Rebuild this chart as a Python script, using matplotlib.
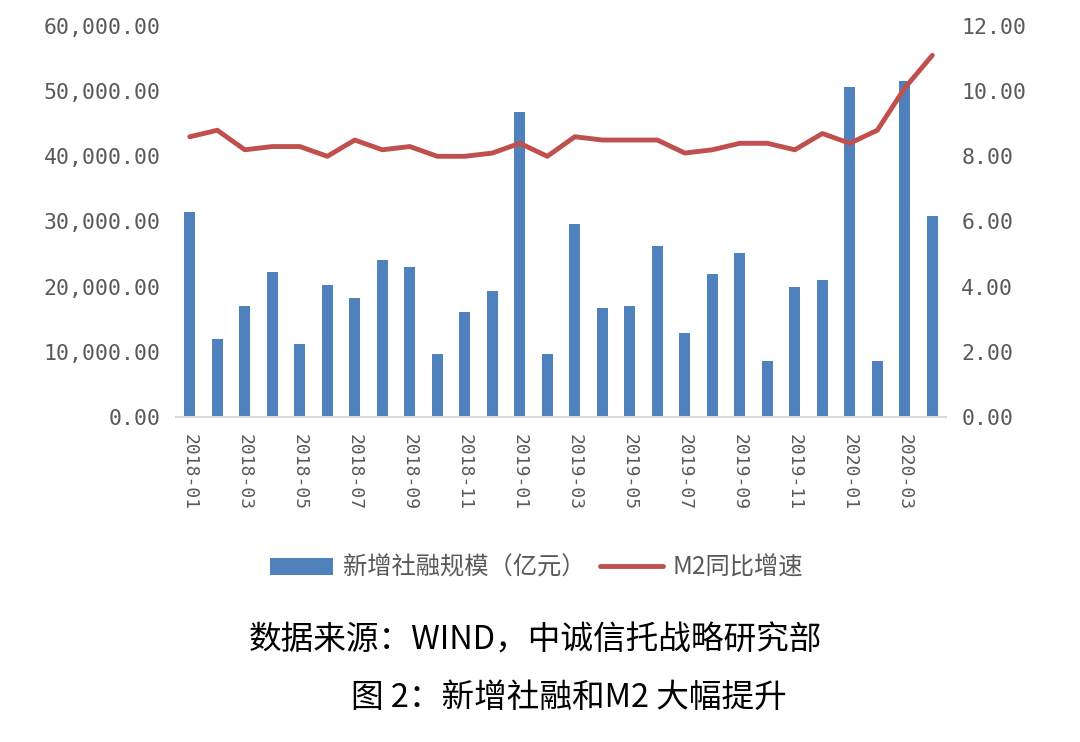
import matplotlib
matplotlib.use('Agg')
import matplotlib.pyplot as plt

plt.rcParams['font.family'] = ['Noto Sans CJK SC', 'DejaVu Sans']

months = ['2018-01', '2018-02', '2018-03', '2018-04', '2018-05', '2018-06',
          '2018-07', '2018-08', '2018-09', '2018-10', '2018-11', '2018-12',
          '2019-01', '2019-02', '2019-03', '2019-04', '2019-05', '2019-06',
          '2019-07', '2019-08', '2019-09', '2019-10', '2019-11', '2019-12',
          '2020-01', '2020-02', '2020-03', '2020-04']
social_financing = [31500, 12000, 17100, 22200, 11200, 20300, 18300, 24100,
                    23000, 9600, 16100, 19300, 46800, 9700, 29600, 16700,
                    17100, 26200, 12900, 21900, 25200, 8600, 19900, 21000,
                    50700, 8600, 51600, 30900]
m2_growth = [8.6, 8.8, 8.2, 8.3, 8.3, 8.0, 8.5, 8.2, 8.3, 8.0, 8.0, 8.1,
             8.4, 8.0, 8.6, 8.5, 8.5, 8.5, 8.1, 8.2, 8.4, 8.4, 8.2, 8.7,
             8.4, 8.8, 10.1, 11.1]
left_ticks = [0, 10000, 20000, 30000, 40000, 50000, 60000]
right_ticks = [0, 2, 4, 6, 8, 10, 12]

blue = '#4f81bd'
red = '#c0504d'
grey = '#595959'
mono = 'DejaVu Sans Mono'

fig = plt.figure(figsize=(10.8, 7.42), dpi=100)
ax = fig.add_axes([0.163, 0.438, 0.713, 0.527])
x = list(range(len(months)))
bars = ax.bar(x, social_financing, width=0.4, color=blue)
ax.set_xlim(-0.5, len(months) - 0.5)
ax.set_ylim(0, 60000)
ax.set_yticks(left_ticks, [f'{v:,.2f}' for v in left_ticks],
              fontfamily=mono, fontsize=15.5, color=grey)
ax.set_xticks(x[::2], months[::2], rotation=270, fontsize=13, color=grey,
              fontfamily=mono)
ax.tick_params(axis='y', length=0, pad=11)
ax.tick_params(axis='x', length=0, pad=12)
for s in ['top', 'left', 'right']:
    ax.spines[s].set_visible(False)
ax.spines['bottom'].set_color('#d9d9d9')
ax.spines['bottom'].set_linewidth(1.5)

ax2 = ax.twinx()
line, = ax2.plot(x, m2_growth, color=red, linewidth=3.5,
                 solid_capstyle='round', solid_joinstyle='round')
ax2.set_ylim(0, 12)
ax2.set_yticks(right_ticks, [f'{v:.2f}' for v in right_ticks],
               fontfamily=mono, fontsize=15.5, color=grey)
ax2.tick_params(axis='y', length=0, pad=11)
for s in ['top', 'left', 'right', 'bottom']:
    ax2.spines[s].set_visible(False)

fig.legend([bars, line], ['新增社融规模（亿元）', 'M2同比增速'],
           loc='center', bbox_to_anchor=(0.497, 0.235), ncol=2, frameon=False,
           fontsize=17.5, labelcolor=grey, handlelength=2.6, handletextpad=0.4,
           columnspacing=0.6)

fig.text(0.496, 0.137, '数据来源：WIND，中诚信托战略研究部', ha='center', va='center',
         fontsize=23.5, color='black')
fig.text(0.527, 0.06, '图 2：新增社融和M2 大幅提升', ha='center', va='center',
         fontsize=23.5, color='black')

fig.savefig('out.png', dpi=100)
